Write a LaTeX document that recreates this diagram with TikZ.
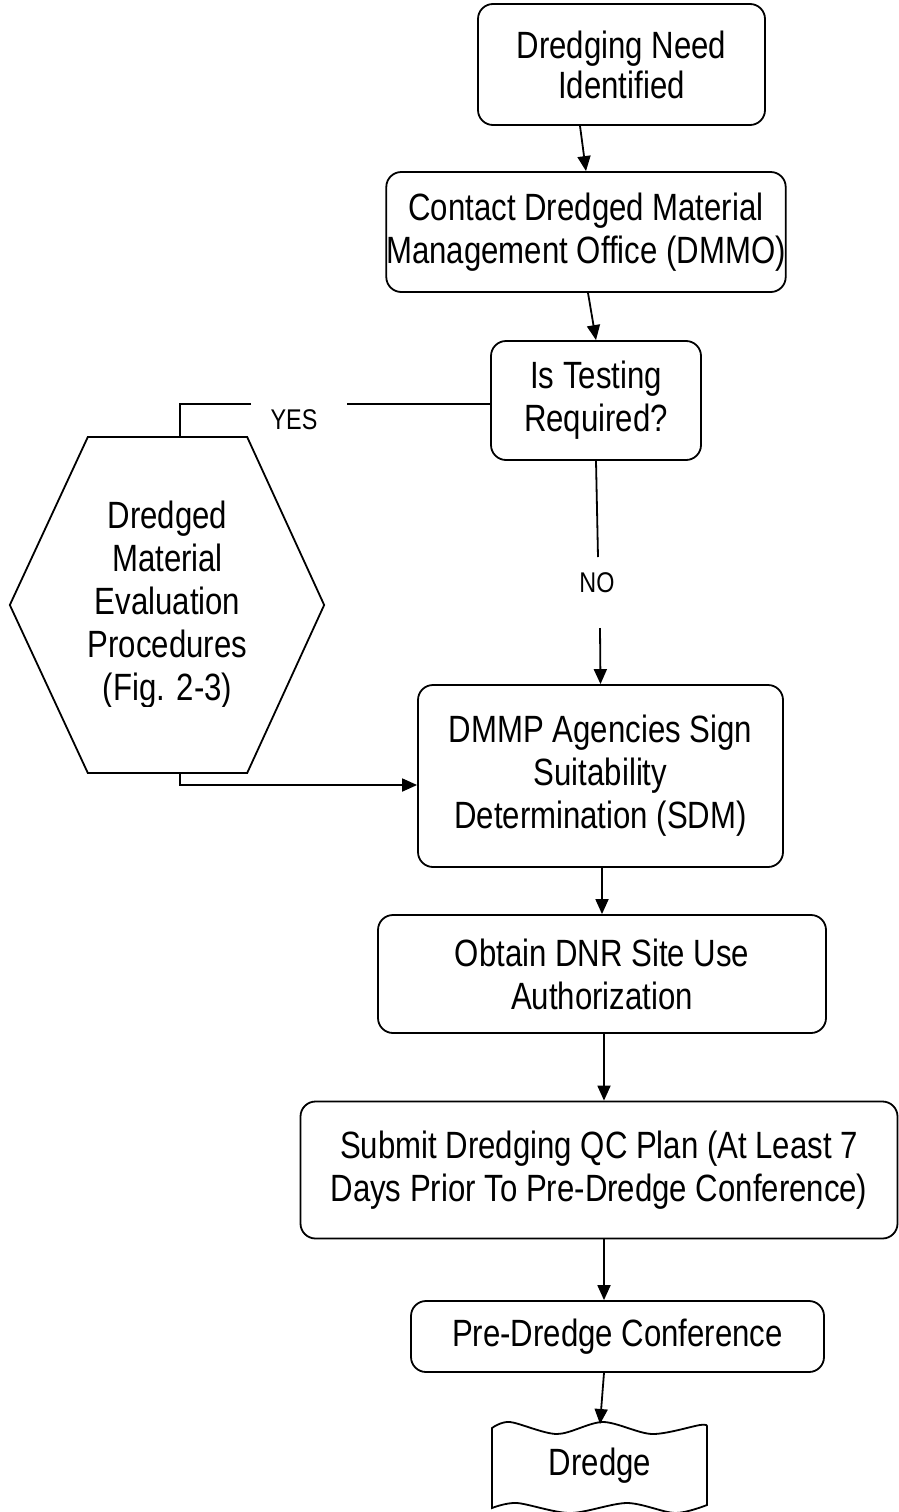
\documentclass[tikz,border=0pt]{standalone}
\usepackage{fontspec}
\setmainfont[FakeStretch=0.82]{Liberation Sans}
\usetikzlibrary{arrows.meta}
\begin{document}
\begin{tikzpicture}[x=1pt, y=-1pt, line width=1.8pt,
  box/.style={draw, rounded corners=15pt, align=center, inner sep=0pt, font=\fontsize{38}{43}\selectfont},
  lbl/.style={inner sep=0pt, font=\fontsize{28.5}{34}\selectfont},
  arr/.style={-{Triangle[length=15pt,width=13pt]}}]
\useasboundingbox (0,0) rectangle (899,1512);

\node[box, minimum width=287pt, minimum height=121pt, font=\fontsize{38}{40}\selectfont] at (621.5,64.5)(need) {Dredging Need\\Identified};
\node[box, minimum width=392pt, minimum height=120pt] at (586,232)(dmmo) {Contact Dredged Material\\Management Office (DMMO)};
\node[box, minimum width=210pt, minimum height=119pt] at (596,400.5)(test) {Is Testing\\Required?};
\node[box, minimum width=365pt, minimum height=182pt] at (600.5,776)(sdm) {DMMP Agencies Sign\\Suitability\\Determination (SDM)};
\node[box, minimum width=448pt, minimum height=118pt] at (602,974)(dnr) {Obtain DNR Site Use\\Authorization};
\node[box, minimum width=597pt, minimum height=137pt] at (599,1170)(qc) {Submit Dredging QC Plan (At Least 7\\Days Prior To Pre-Dredge Conference)};
\node[box, minimum width=413pt, minimum height=71pt] at (617.5,1336.5)(conf) {Pre-Dredge Conference};

\begin{scope}
\clip (0,437) rectangle (340,706);
\node[align=center, inner sep=0pt, outer sep=0pt, minimum width=157pt, minimum height=336pt,
  font=\fontsize{38}{43}\selectfont] at (167.5,605)(eval) {Dredged\\Material\\Evaluation\\Procedures\\(Fig. 2-3)};
\end{scope}
\draw (eval.north west) -- (eval.north east) -- ([xshift=77pt]eval.east) -- (eval.south east)
  -- (eval.south west) -- ([xshift=-78pt]eval.west) -- cycle;

\node[inner sep=0pt, outer sep=0pt, minimum width=215pt, minimum height=84pt,
  font=\fontsize{38}{44}\selectfont] at (600,1466)(dredge) {Dredge};
\draw plot[smooth] coordinates {(492,1428) (510,1422) (557,1434) (603,1422) (652,1434) (700,1425) (707,1426)}
  -- plot[smooth] coordinates {(707,1505) (675,1513) (627,1503) (570,1513) (517,1503) (492,1508)} -- cycle;

\node[lbl] at (294,420)(yes) {YES};
\node[lbl] at (597,583)(no) {NO};
\coordinate (yesR) at (347,404);
\coordinate (yesL) at (251,404);
\coordinate (noA) at (598,557);
\coordinate (noB) at (600,628);

\draw[arr] ([xshift=-41.5pt]need.south) -- (dmmo.north);
\draw[arr] ([xshift=2pt]dmmo.south) -- (test.north);
\draw ([yshift=-3.5pt]test.west) -- (yesR);
\draw (yesL) -| ([xshift=12.5pt]eval.north);
\draw (test.south) -- (noA);
\draw[arr] (noB) -- (sdm.north);
\draw[arr] ([xshift=12.5pt]eval.south) |- ([yshift=-9pt]sdm.west);
\draw[arr] ([xshift=1.5pt]sdm.south) -- (dnr.north);
\draw[arr] ([xshift=2pt]dnr.south) -- ([xshift=-13.5pt]conf.north |- qc.north);
\draw[arr] ([xshift=-13.5pt]conf.south |- qc.south) -- ([xshift=-13.5pt]conf.north);
\draw[arr] ([xshift=-13.5pt]conf.south) -- (dredge.north);
\end{tikzpicture}
\end{document}
